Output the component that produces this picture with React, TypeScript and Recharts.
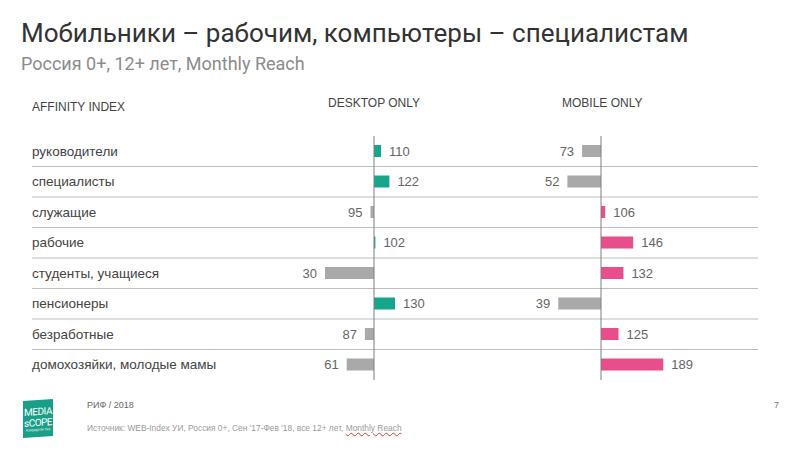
import React from 'react';
import { BarChart, Bar, XAxis, YAxis, CartesianGrid, ReferenceLine, Cell, LabelList } from 'recharts';

const categories = [
  'руководители',
  'специалисты',
  'служащие',
  'рабочие',
  'студенты, учащиеся',
  'пенсионеры',
  'безработные',
  'домохозяйки, молодые мамы',
];
const desktopIndex = [110, 122, 95, 102, 30, 130, 87, 61];
const mobileIndex = [73, 52, 106, 146, 132, 39, 125, 189];
const BASE = 100;

const TEAL = '#17a68c';
const PINK = '#e84f8a';
const GRAY = '#a9a9a9';

const data = categories.map((name, i) => ({
  name,
  desktop: desktopIndex[i],
  mobile: mobileIndex[i],
  desktopRange: [Math.min(BASE, desktopIndex[i]), Math.max(BASE, desktopIndex[i])],
  mobileRange: [Math.min(BASE, mobileIndex[i]), Math.max(BASE, mobileIndex[i])],
}));

const W = 800;
const H = 453;
const MARGIN = { top: 136, right: 42, bottom: 73, left: 32 };
const PX_PER_UNIT = 0.7;
const PLOT_W = W - MARGIN.left - MARGIN.right;

function domainFor(zeroX: number): [number, number] {
  const leftPx = zeroX - MARGIN.left;
  const rightPx = PLOT_W - leftPx;
  return [BASE - leftPx / PX_PER_UNIT, BASE + rightPx / PX_PER_UNIT];
}

const FONT = '"Liberation Sans", Arial, sans-serif';

const makeLabel = (values: number[]) => (props: any) => {
  const { x, y, width, height, index } = props;
  const v = values[index];
  const cy = Number(y) + Number(height) / 2;
  if (v >= BASE) {
    return (
      <text x={Number(x) + Number(width) + 8} y={cy} dy="0.35em" textAnchor="start" fontSize={13} fill="#666" fontFamily={FONT}>
        {v}
      </text>
    );
  }
  return (
    <text x={Number(x) - 8} y={cy} dy="0.35em" textAnchor="end" fontSize={13} fill="#666" fontFamily={FONT}>
      {v}
    </text>
  );
};

const categoryLabel = (props: any) => {
  const { y, height, index } = props;
  const cy = Number(y) + Number(height) / 2;
  return (
    <text x={MARGIN.left} y={cy} dy="0.35em" textAnchor="start" fontSize={13.5} fill="#444" fontFamily={FONT}>
      {categories[index]}
    </text>
  );
};

const gridGen = ({ offset }: any) => {
  const n = categories.length;
  const out: number[] = [];
  for (let i = 1; i < n; i++) out.push(offset.top + (i * offset.height) / n);
  return out;
};

export default function App() {
  return (
    <div style={{ position: 'absolute', left: 0, top: 0, width: W, height: H, background: '#fff', overflow: 'hidden', fontFamily: FONT }}>
      <div style={{ position: 'absolute', left: 21, top: 18, fontSize: 26, color: '#333', fontFamily: 'Roboto, sans-serif', whiteSpace: 'nowrap' }}>
        Мобильники – рабочим, компьютеры – специалистам
      </div>
      <div style={{ position: 'absolute', left: 21, top: 53, fontSize: 18, color: '#8c8c8c', fontFamily: 'Roboto, sans-serif', whiteSpace: 'nowrap' }}>
        Россия 0+, 12+ лет, Monthly Reach
      </div>
      <div style={{ position: 'absolute', left: 32, top: 100, fontSize: 12, color: '#444', whiteSpace: 'nowrap' }}>AFFINITY INDEX</div>
      <div style={{ position: 'absolute', left: 328, top: 96, fontSize: 12, color: '#444', whiteSpace: 'nowrap' }}>DESKTOP ONLY</div>
      <div style={{ position: 'absolute', left: 562, top: 96, fontSize: 12, color: '#444', whiteSpace: 'nowrap' }}>MOBILE ONLY</div>

      <div style={{ position: 'absolute', left: 0, top: 0 }}>
        <BarChart width={W} height={H} data={data} layout="vertical" margin={MARGIN}>
          <CartesianGrid horizontal vertical={false} stroke="#bdbdbd" strokeWidth={1.2} horizontalCoordinatesGenerator={gridGen} />
          <XAxis type="number" domain={domainFor(374)} hide allowDataOverflow />
          <YAxis type="category" dataKey="name" hide width={0} />
          <ReferenceLine x={BASE} stroke="#7f7f7f" strokeWidth={1} />
          <Bar dataKey="desktopRange" barSize={12} isAnimationActive={false}>
            {data.map((d, i) => (
              <Cell key={i} fill={d.desktop >= BASE ? TEAL : GRAY} />
            ))}
            <LabelList dataKey="desktop" content={makeLabel(desktopIndex)} />
            <LabelList dataKey="name" content={categoryLabel} />
          </Bar>
        </BarChart>
      </div>
      <div style={{ position: 'absolute', left: 0, top: 0 }}>
        <BarChart width={W} height={H} data={data} layout="vertical" margin={MARGIN}>
          <XAxis type="number" domain={domainFor(601)} hide allowDataOverflow />
          <YAxis type="category" dataKey="name" hide width={0} />
          <ReferenceLine x={BASE} stroke="#7f7f7f" strokeWidth={1} />
          <Bar dataKey="mobileRange" barSize={12} isAnimationActive={false}>
            {data.map((d, i) => (
              <Cell key={i} fill={d.mobile >= BASE ? PINK : GRAY} />
            ))}
            <LabelList dataKey="mobile" content={makeLabel(mobileIndex)} />
          </Bar>
        </BarChart>
      </div>

      <div style={{ position: 'absolute', left: 23, top: 400, width: 30, height: 37, background: '#1a9e88', transform: 'skewY(-4deg)', color: '#fff', fontFamily: 'Roboto, sans-serif', textAlign: 'center', lineHeight: '11px' }}>
        <div style={{ fontSize: 10, marginTop: 6, letterSpacing: -0.5 }}>MEDIA</div>
        <div style={{ fontSize: 10, letterSpacing: -0.5 }}>sCOPE</div>
        <div style={{ fontSize: 3, lineHeight: '5px' }}>POWERED BY TNS</div>
      </div>
      <div style={{ position: 'absolute', left: 87, top: 400, fontSize: 9, color: '#666', whiteSpace: 'nowrap' }}>РИФ / 2018</div>
      <div style={{ position: 'absolute', left: 87, top: 423, fontSize: 8.4, color: '#9a9a9a', whiteSpace: 'nowrap' }}>
        Источник: WEB-Index УИ, Россия 0+, Сен '17-Фев '18, все 12+ лет,{' '}
        <span style={{ textDecoration: 'underline wavy #d04040' }}>Monthly Reach</span>
      </div>
      <div style={{ position: 'absolute', left: 774, top: 400, fontSize: 9, color: '#777' }}>7</div>
    </div>
  );
}
